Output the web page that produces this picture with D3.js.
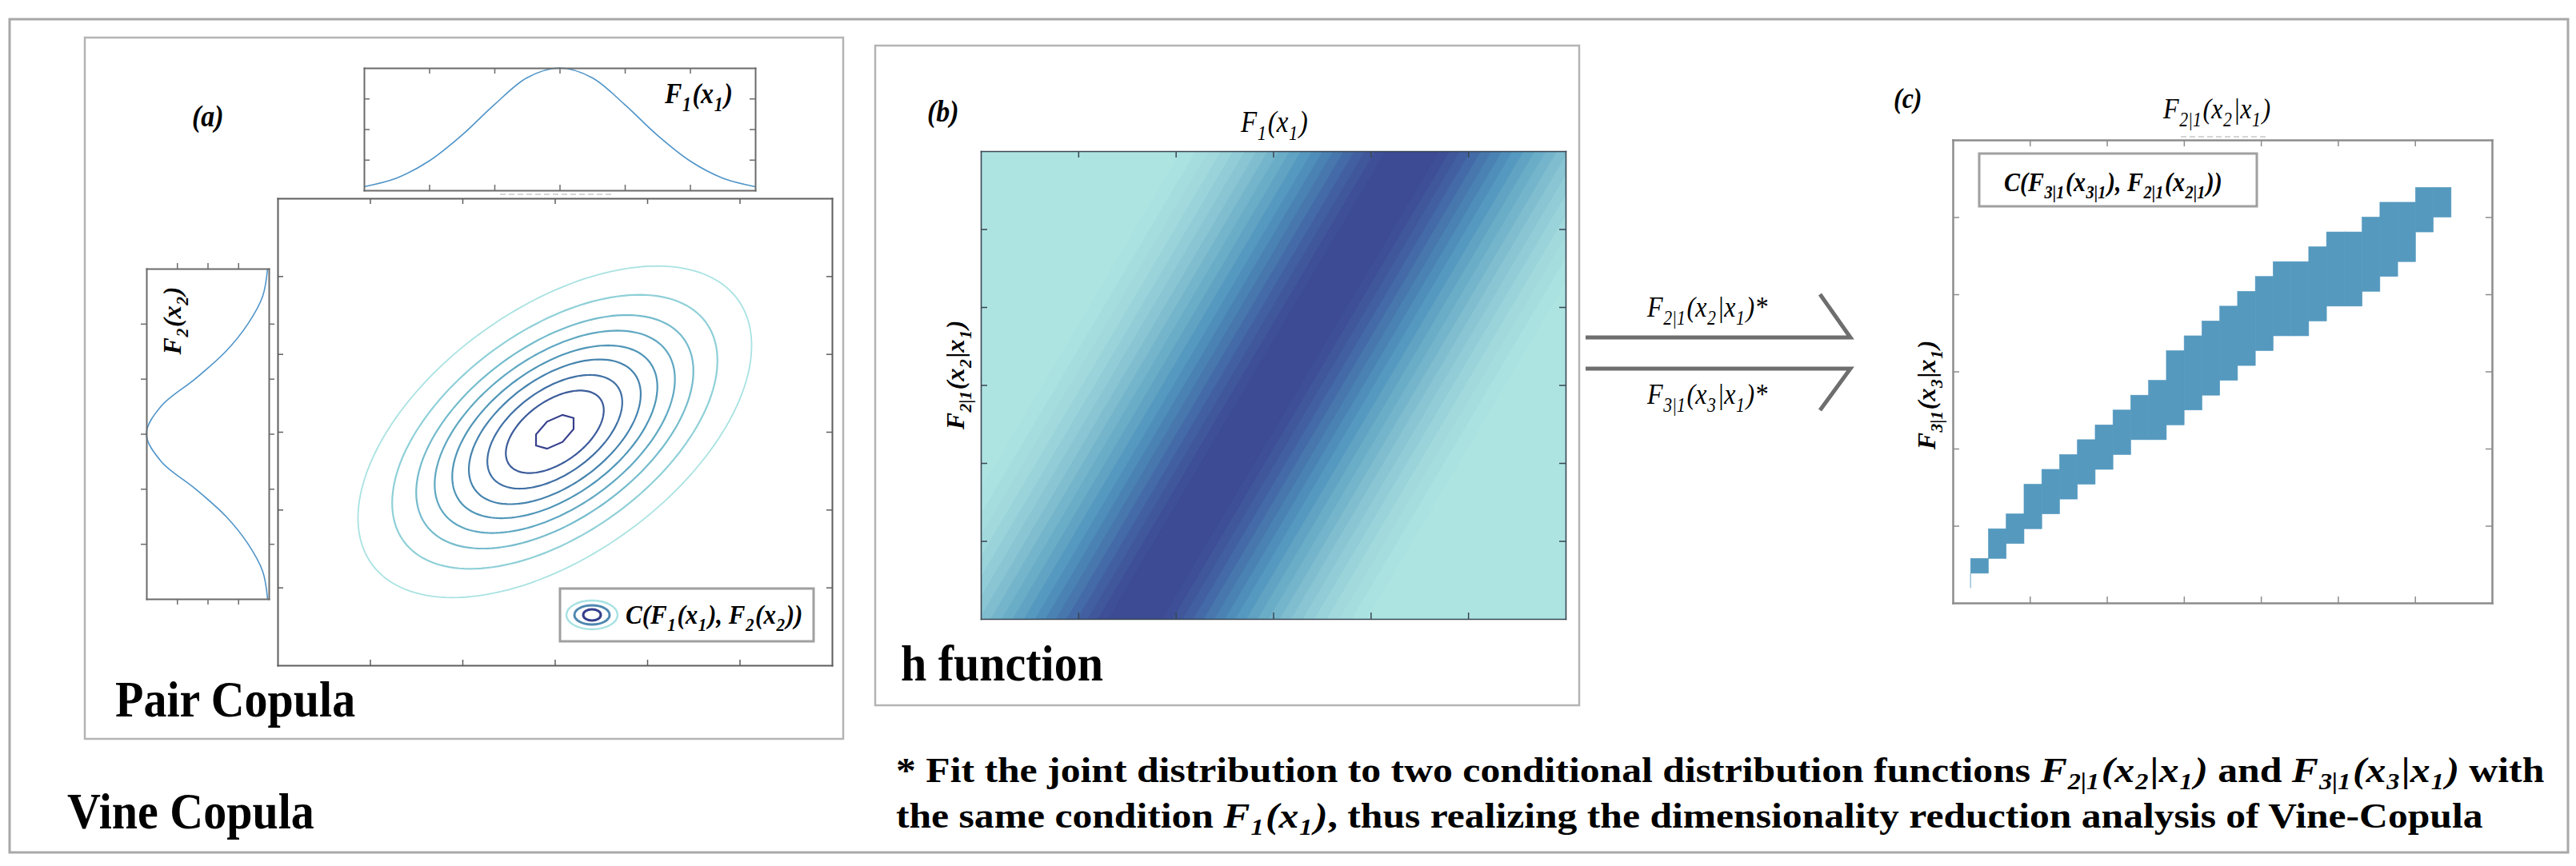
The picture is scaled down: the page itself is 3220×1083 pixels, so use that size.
<!DOCTYPE html>
<html>
<head>
    <meta charset="utf-8">
    <script src="https://d3js.org/d3.v7.min.js"></script>
    <title>Vine Copula</title>
    <style>
        body { margin: 0; background: #fff; }
        svg text { font-family: "Liberation Serif", "Times New Roman", serif; white-space: pre; fill: #000; }
    </style>
</head>
<body>
    <div id="chart"></div>
    <script>
        // ---- data ----
        // marginal densities (normalised to peak), sampled every 0.5 on a 0..6 axis
        const margGrid = [0, 0.5, 1, 1.5, 2, 2.5, 3, 3.5, 4, 4.5, 5, 5.5, 6];
        const topPdf = [0.03, 0.10, 0.24, 0.45, 0.70, 0.92, 1.00, 0.92, 0.70, 0.45, 0.24, 0.10, 0.03];
        const leftPdf = [0.01, 0.05, 0.17, 0.35, 0.60, 0.88, 1.00, 0.88, 0.60, 0.35, 0.17, 0.05, 0.01];

        // pair copula contours: centre, ring sizes (outer -> inner) and tilt
        const contourCenter = [3, 3];
        const contourRadius = [2.13, 1.76, 1.50, 1.30, 1.11, 0.93, 0.73, 0.53, 0.22];
        const contourRho = 0.52;
        const contourColors = ["#a9e2e2", "#8fd0d8", "#75bccd", "#60a8c2", "#5096b8", "#4683ae", "#4070a5", "#3c5c9b", "#363f8c"];

        // h function: ridge centre at bottom / top, and filled level edges (distance from ridge)
        const ridgeBottom = 0.264, ridgeTop = 0.738;
        const levelEdges = [0.045, 0.063, 0.081, 0.099, 0.117, 0.135, 0.153, 0.171, 0.19, 0.209, 0.228, 0.247, 0.266, 0.286, 0.306, 0.327, 0.348, 0.37, 0.395];
        const levelStops = [0.045, 0.09, 0.13, 0.175, 0.225, 0.28, 0.33, 0.395];
        const levelColors = ["#3d4a94", "#4260a1", "#4779ae", "#5296bf", "#6eb0c8", "#8bc7d4", "#9fd8dc", "#ade4e2"];

        // (c) occupied histogram cells: column index, lowest and highest row
        const cellCols = [1, 2, 3, 4, 5, 6, 7, 8, 9, 10, 11, 12, 13, 14, 15, 16, 17, 18, 19, 20, 21, 22, 23, 24, 25, 26, 27];
        const cellLow = [2, 3, 4, 5, 6, 7, 8, 9, 10, 11, 11, 12, 13, 14, 15, 16, 17, 18, 18, 19, 20, 20, 21, 22, 23, 25, 26];
        const cellHigh = [2, 4, 5, 7, 8, 9, 10, 11, 12, 13, 14, 16, 17, 18, 19, 20, 21, 22, 22, 23, 24, 24, 25, 26, 26, 27, 27];
        const cellGridX = 30.3, cellGridY = 31.2;

        const ticks6 = [1, 2, 3, 4, 5];
        const ticksQ = [0.25, 0.5, 0.75];
        const ticksSixth = [1 / 6, 2 / 6, 3 / 6, 4 / 6, 5 / 6];

        // ---- drawing ----
        const svg = d3.select("#chart").append("svg")
            .attr("width", 3220)
            .attr("height", 1083);

        // box made of four axes with inward ticks and no labels
        function axesBox(g, xs, ys, xt, yt, color, sw, len) {
            const [xa, xb] = xs.domain(), [ya, yb] = ys.domain();
            const parts = [
                [d3.axisBottom(xs).tickValues(xt), `translate(0,${ys(ya)})`],
                [d3.axisTop(xs).tickValues(xt), `translate(0,${ys(yb)})`],
                [d3.axisLeft(ys).tickValues(yt), `translate(${xs(xa)},0)`],
                [d3.axisRight(ys).tickValues(yt), `translate(${xs(xb)},0)`]
            ];
            parts.forEach(([ax, tr]) => {
                const a = g.append("g").attr("transform", tr)
                    .call(ax.tickSizeInner(-len).tickSizeOuter(0).tickFormat(""));
                a.select(".domain").attr("stroke", color).attr("stroke-width", sw).attr("stroke-linecap", "square");
                a.selectAll(".tick line").attr("stroke", color).attr("stroke-width", 1.5);
                a.selectAll(".tick text").remove();
            });
        }

        // text with subscripts; parts = [string, "s" for subscript, italic override]
        function rich(g, x, y, parts, o) {
            const fs = o.size;
            const drop = o.drop || 0.27, subSize = o.subSize || 0.68;
            let host = g, tx = x, ty = y;
            if (o.rotate) {
                host = g.append("g").attr("transform", `translate(${x},${y}) rotate(-90)`);
                tx = 0; ty = 0;
            }
            const t = host.append("text")
                .attr("x", tx).attr("y", ty)
                .attr("font-size", fs)
                .attr("font-weight", o.bold ? "bold" : "normal")
                .attr("font-style", o.italic ? "italic" : "normal")
                .attr("text-anchor", o.anchor || "start");
            let shift = 0;
            parts.forEach(p => {
                const sub = p[1] === "s";
                const want = sub ? fs * drop : 0;
                const ts = t.append("tspan").attr("dy", want - shift).text(p[0]);
                if (sub) ts.attr("font-size", fs * subSize).attr("dx", fs * 0.02);
                else if (shift) ts.attr("dx", fs * 0.05);
                if (p[2] !== undefined) ts.attr("font-style", p[2] ? "italic" : "normal");
                shift = want;
            });
            const sy = o.sy || 1;
            const sx = o.len ? o.len / t.node().getComputedTextLength() : 1;
            if (sx !== 1 || sy !== 1)
                t.attr("transform", `translate(${tx},${ty}) scale(${sx},${sy}) translate(${-tx},${-ty})`);
            return t;
        }

        // outer frame and panel boxes
        const boxes = [[12, 24, 3198, 1042, 3, "#a8a8a8"], [106, 47, 948, 877, 2.5, "#b4b4b4"], [1094, 57, 880, 825, 2.5, "#b4b4b4"]];
        boxes.forEach(b => svg.append("rect")
            .attr("x", b[0]).attr("y", b[1]).attr("width", b[2]).attr("height", b[3])
            .attr("fill", "none").attr("stroke", b[5]).attr("stroke-width", b[4]));

        // ===== (a) pair copula =====
        const ga = svg.append("g");

        // top marginal
        const xTop = d3.scaleLinear().domain([0, 6]).range([455, 944]);
        const yTop = d3.scaleLinear().domain([0, 1]).range([238, 85]);
        ga.append("path")
            .datum(margGrid.map((z, i) => [z, topPdf[i]]))
            .attr("fill", "none").attr("stroke", "#4f94c8").attr("stroke-width", 1.6)
            .attr("d", d3.line().x(d => xTop(d[0])).y(d => yTop(d[1])).curve(d3.curveCatmullRom));
        axesBox(ga, xTop, yTop, ticks6, ticksQ, "#6b6b6b", 2, 7);
        rich(ga, 831, 129, [["F"], ["1", "s"], ["(x"], ["1", "s"], [")"]], { size: 32, bold: true, italic: true, sy: 1.12 });

        // left marginal (density grows to the left)
        const xLeft = d3.scaleLinear().domain([0, 1]).range([336, 183]);
        const yLeft = d3.scaleLinear().domain([0, 6]).range([336, 749]);
        ga.append("path")
            .datum(margGrid.map((z, i) => [leftPdf[i], z]))
            .attr("fill", "none").attr("stroke", "#4f94c8").attr("stroke-width", 1.6)
            .attr("d", d3.line().x(d => xLeft(d[0])).y(d => yLeft(d[1])).curve(d3.curveCatmullRom));
        axesBox(ga, xLeft, yLeft, ticksQ, ticks6, "#6b6b6b", 2, 7);
        rich(ga, 226, 401, [["F"], ["2", "s"], ["(x"], ["2", "s"], [")"]], { size: 32, bold: true, italic: true, anchor: "middle", rotate: true });

        // main contour plot
        const xMain = d3.scaleLinear().domain([0, 6]).range([347, 1040]);
        const yMain = d3.scaleLinear().domain([0, 6]).range([832, 248]);
        const ring = d3.line().x(d => xMain(d[0])).y(d => yMain(d[1])).curve(d3.curveLinearClosed);
        const sq = Math.sqrt(1 - contourRho * contourRho);
        contourRadius.forEach((r, i) => {
            const n = i === contourRadius.length - 1 ? 8 : 160;
            const pts = d3.range(n).map(k => {
                const t = 2 * Math.PI * k / n + (n === 8 ? Math.PI / 8 : 0);
                return [contourCenter[0] + r * Math.cos(t),
                        contourCenter[1] + r * (contourRho * Math.cos(t) + sq * Math.sin(t))];
            });
            ga.append("path").attr("d", ring(pts))
                .attr("fill", "none").attr("stroke", contourColors[i])
                .attr("stroke-width", i === 0 ? 1.8 : 2.2);
        });
        axesBox(ga, xMain, yMain, ticks6, ticks6, "#5e5e5e", 2, 7);

        ga.append("line").attr("x1", 625).attr("x2", 764).attr("y1", 243).attr("y2", 243)
            .attr("stroke", "#c8c8c8").attr("stroke-width", 1.5).attr("stroke-dasharray", "7,4");

        // legend
        ga.append("rect").attr("x", 700).attr("y", 736).attr("width", 317).attr("height", 66)
            .attr("fill", "#fff").attr("stroke", "#a0a0a0").attr("stroke-width", 3);
        [[32, 18, "#a9e2e2", 2.4], [22, 12, "#4f88b0", 3], [11, 7, "#363f8c", 3]].forEach(e =>
            ga.append("ellipse").attr("cx", 740).attr("cy", 769).attr("rx", e[0]).attr("ry", e[1])
                .attr("fill", "none").attr("stroke", e[2]).attr("stroke-width", e[3]));
        rich(ga, 782, 780, [["C(F"], ["1", "s"], ["(x"], ["1", "s"], ["), F"], ["2", "s"], ["(x"], ["2", "s"], ["))"]], { size: 31, bold: true, italic: true, sy: 1.12 });

        rich(ga, 240, 158, [["(a)"]], { size: 34, bold: true, italic: true, sy: 1.1 });
        rich(ga, 144, 896, [["Pair Copula"]], { size: 58, bold: true, sy: 1.1 });

        // ===== (b) h function =====
        const gb = svg.append("g");
        const xH = d3.scaleLinear().domain([0, 1]).range([1226, 1957]);
        const yH = d3.scaleLinear().domain([0, 1]).range([774, 189]);
        const hColor = d3.scaleLinear().domain(levelStops).range(levelColors).clamp(true);
        gb.append("clipPath").attr("id", "clipH").append("rect")
            .attr("x", xH(0)).attr("y", yH(1)).attr("width", xH(1) - xH(0)).attr("height", yH(0) - yH(1));
        const gh = gb.append("g").attr("clip-path", "url(#clipH)");
        gh.append("rect").attr("x", xH(0)).attr("y", yH(1)).attr("width", xH(1) - xH(0)).attr("height", yH(0) - yH(1))
            .attr("fill", levelColors[levelColors.length - 1]);
        const band = d3.line().x(d => xH(d[0])).y(d => yH(d[1])).curve(d3.curveLinearClosed);
        for (let i = levelEdges.length - 1; i >= 0; i--) {
            const e = levelEdges[i];
            const c = i === 0 ? levelColors[0] : hColor((levelEdges[i - 1] + e) / 2);
            gh.append("path")
                .attr("d", band([[ridgeBottom - e, 0], [ridgeBottom + e, 0], [ridgeTop + e, 1], [ridgeTop - e, 1]]))
                .attr("fill", c).attr("stroke", c).attr("stroke-width", 0.6);
        }
        axesBox(gb, xH, yH, ticksSixth, ticksSixth, "#3a4652", 1.6, 8);

        rich(gb, 1159, 152, [["(b)"]], { size: 34, bold: true, italic: true, sy: 1.1 });
        rich(gb, 1551, 165, [["F"], ["1", "s"], ["(x"], ["1", "s"], [")"]], { size: 33, italic: true, sy: 1.12 });
        rich(gb, 1205, 469, [["F"], ["2|1", "s"], ["(x"], ["2", "s"], ["|x"], ["1", "s"], [")"]], { size: 32, bold: true, italic: true, anchor: "middle", rotate: true });
        rich(gb, 1126, 851, [["h function"]], { size: 58, bold: true, sy: 1.1 });

        // ===== arrows =====
        const gArr = svg.append("g").attr("stroke", "#6e6e6e").attr("fill", "none");
        gArr.append("path").attr("d", "M1982,422 H2313 L2275,368").attr("stroke-width", 5);
        gArr.append("path").attr("d", "M1982,461 H2313 L2275,513").attr("stroke-width", 5);
        rich(svg, 2059, 396, [["F"], ["2|1", "s"], ["(x"], ["2", "s"], ["|x"], ["1", "s"], [")*"]], { size: 32, italic: true, sy: 1.15 });
        rich(svg, 2059, 505, [["F"], ["3|1", "s"], ["(x"], ["3", "s"], ["|x"], ["1", "s"], [")*"]], { size: 32, italic: true, sy: 1.15 });

        // ===== (c) conditional pair =====
        const gc = svg.append("g");
        const xC = d3.scaleLinear().domain([0, cellGridX]).range([2441, 3115]);
        const yC = d3.scaleLinear().domain([0, cellGridY]).range([754, 175]);
        gc.selectAll(".cell")
            .data(cellCols.map((c, i) => ({ c: c, lo: cellLow[i], hi: cellHigh[i] })))
            .enter().append("rect")
            .attr("class", "cell")
            .attr("x", d => xC(d.c))
            .attr("y", d => yC(d.hi + 1))
            .attr("width", xC(2) - xC(1))
            .attr("height", d => yC(d.lo) - yC(d.hi + 1))
            .attr("fill", "#5599bf").attr("stroke", "#5599bf").attr("stroke-width", 0.6);
        gc.append("line").attr("x1", xC(1)).attr("x2", xC(1)).attr("y1", yC(2)).attr("y2", yC(1))
            .attr("stroke", "#9cc4da").attr("stroke-width", 1.5);
        axesBox(gc, xC, yC,
            [1, 2, 3, 4, 5, 6].map(k => k * cellGridX / 7),
            [1, 2, 3, 4, 5].map(k => k * cellGridY / 6),
            "#8c8c8c", 2.5, 8);
        gc.append("line").attr("x1", 2726).attr("x2", 2832).attr("y1", 171).attr("y2", 171)
            .attr("stroke", "#c8c8c8").attr("stroke-width", 1.5).attr("stroke-dasharray", "7,4");

        gc.append("rect").attr("x", 2474).attr("y", 192).attr("width", 347).attr("height", 66)
            .attr("fill", "#fff").attr("stroke", "#a0a0a0").attr("stroke-width", 3);
        rich(gc, 2505, 239, [["C(F"], ["3|1", "s"], ["(x"], ["3|1", "s"], ["), F"], ["2|1", "s"], ["(x"], ["2|1", "s"], ["))"]], { size: 30, bold: true, italic: true, sy: 1.15 });

        rich(gc, 2367, 135, [["(c)"]], { size: 32, bold: true, italic: true, sy: 1.1 });
        rich(gc, 2704, 148, [["F"], ["2|1", "s"], ["(x"], ["2", "s"], ["|x"], ["1", "s"], [")"]], { size: 32, italic: true, sy: 1.15 });
        rich(gc, 2419, 494, [["F"], ["3|1", "s"], ["(x"], ["3", "s"], ["|x"], ["1", "s"], [")"]], { size: 32, bold: true, italic: true, anchor: "middle", rotate: true });

        // ===== bottom texts =====
        rich(svg, 84, 1036, [["Vine Copula"]], { size: 58, bold: true, sy: 1.1 });
        rich(svg, 1120, 978, [
            ["* Fit the joint distribution to two conditional distribution functions "],
            ["F", "", true], ["2|1", "s", true], ["(x", "", true], ["2", "s", true], ["|x", "", true], ["1", "s", true], [")", "", true],
            [" and "],
            ["F", "", true], ["3|1", "s", true], ["(x", "", true], ["3", "s", true], ["|x", "", true], ["1", "s", true], [")", "", true],
            [" with"]
        ], { size: 45, bold: true, len: 2040, drop: 0.2, subSize: 0.65 });
        rich(svg, 1120, 1035, [
            ["the same condition "],
            ["F", "", true], ["1", "s", true], ["(x", "", true], ["1", "s", true], [")", "", true],
            [", thus realizing the dimensionality reduction analysis of Vine-Copula"]
        ], { size: 45, bold: true, len: 1977, drop: 0.2, subSize: 0.65 });
    </script>
</body>
</html>
